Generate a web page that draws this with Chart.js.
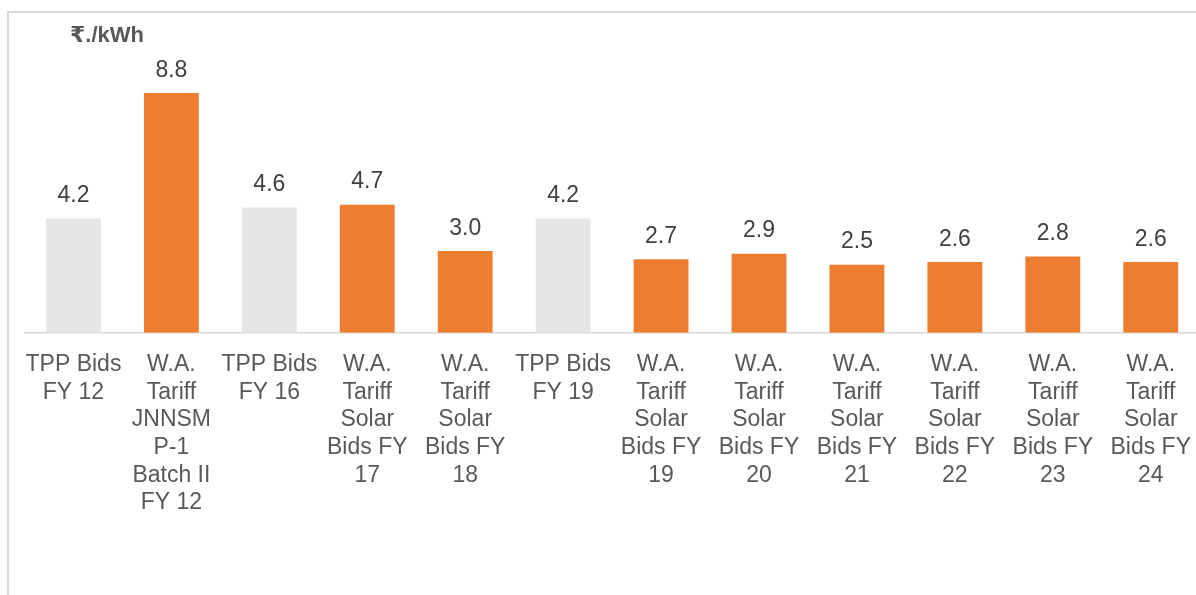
<!DOCTYPE html>
<html>
<head>
<meta charset="utf-8">
<script src="https://cdn.jsdelivr.net/npm/chart.js@4"></script>
<style>
  html, body { margin: 0; padding: 0; background: #fff; overflow: hidden; }
  #wrap { position: relative; width: 1196px; height: 595px; overflow: hidden; }
  #frame { position: absolute; left: 7px; top: 11px; width: 1300px; height: 700px;
           border-left: 2px solid #d9d9d9; border-top: 2px solid #d9d9d9; }
  #chart { position: absolute; left: 0; top: 0; }
</style>
</head>
<body>
<div id="wrap">
  <div id="frame"></div>
  <canvas id="chart" width="1201" height="595"></canvas>
</div>
<script>
// datos del grafico
const categorias = [
  ["TPP Bids", "FY 12"],
  ["W.A.", "Tariff", "JNNSM", "P-1", "Batch II", "FY 12"],
  ["TPP Bids", "FY 16"],
  ["W.A.", "Tariff", "Solar", "Bids FY", "17"],
  ["W.A.", "Tariff", "Solar", "Bids FY", "18"],
  ["TPP Bids", "FY 19"],
  ["W.A.", "Tariff", "Solar", "Bids FY", "19"],
  ["W.A.", "Tariff", "Solar", "Bids FY", "20"],
  ["W.A.", "Tariff", "Solar", "Bids FY", "21"],
  ["W.A.", "Tariff", "Solar", "Bids FY", "22"],
  ["W.A.", "Tariff", "Solar", "Bids FY", "23"],
  ["W.A.", "Tariff", "Solar", "Bids FY", "24"]
];
const tarifas = [4.2, 8.8, 4.6, 4.7, 3.0, 4.2, 2.7, 2.9, 2.5, 2.6, 2.8, 2.6];
const unidad = "₹./kWh";

const GRIS = "#e7e6e6";
const NARANJA = "#ed7d31";
const colores = categorias.map(c => c[0] === "TPP Bids" ? GRIS : NARANJA);

// etiquetas de valor encima de las barras + unidad
const etiquetas = {
  id: "etiquetas",
  afterDatasetsDraw(chart) {
    const ctx = chart.ctx;
    const meta = chart.getDatasetMeta(0);
    ctx.save();
    ctx.font = "23px 'Liberation Sans', Arial, sans-serif";
    ctx.fillStyle = "#404040";
    ctx.textAlign = "center";
    ctx.textBaseline = "alphabetic";
    meta.data.forEach((bar, i) => {
      ctx.fillText(tarifas[i].toFixed(1), bar.x, bar.y - 16.5);
    });
    ctx.font = "bold 22px 'Liberation Sans', Arial, 'DejaVu Sans', sans-serif";
    ctx.fillStyle = "#595959";
    ctx.textAlign = "left";
    ctx.fillText(unidad, 70, 41.5);
    ctx.restore();
  }
};

const config = {
  type: "bar",
  data: {
    labels: categorias,
    datasets: [{
      data: tarifas,
      backgroundColor: colores,
      borderWidth: 0,
      barPercentage: 0.56,
      categoryPercentage: 1
    }]
  },
  options: {
    responsive: false,
    animation: false,
    devicePixelRatio: 1,
    layout: { padding: { top: 60.4, left: 24.5, right: 0, bottom: 68 } },
    plugins: {
      legend: { display: false },
      tooltip: { enabled: false }
    },
    scales: {
      x: {
        grid: { display: false },
        border: { display: true, color: "#d9d9d9", width: 1.5 },
        ticks: {
          color: "#595959",
          font: { family: "'Liberation Sans', Arial, sans-serif", size: 23, lineHeight: 1.204 },
          padding: 10,
          maxRotation: 0,
          autoSkip: false
        }
      },
      y: {
        display: false,
        min: 0,
        max: 10
      }
    }
  },
  plugins: [etiquetas]
};

new Chart(document.getElementById("chart"), config);
</script>
</body>
</html>
